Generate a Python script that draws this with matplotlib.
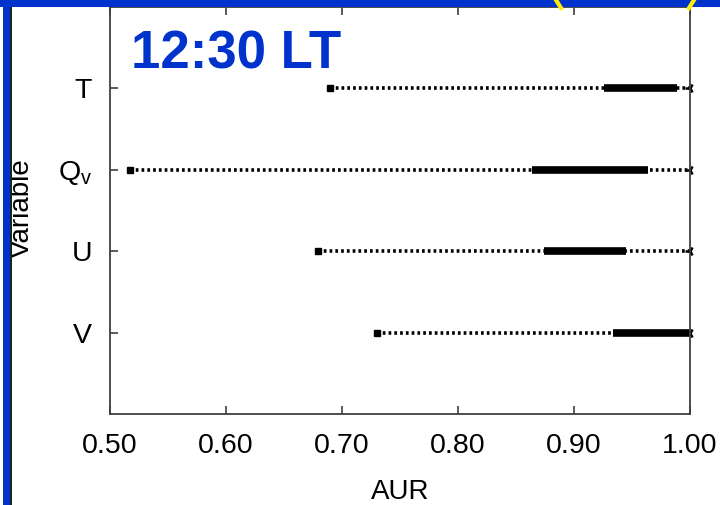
import matplotlib.pyplot as plt
from matplotlib.patches import Rectangle
from matplotlib.lines import Line2D

plt.rcParams['font.family'] = ['Liberation Sans', 'DejaVu Sans']
plt.rcParams['mathtext.default'] = 'regular'

# data
variables = ['T', 'Q$_v$', 'U', 'V']
aur_min = [0.690, 0.517, 0.679, 0.730]
aur_q1 = [0.926, 0.864, 0.874, 0.934]
aur_q3 = [0.989, 0.964, 0.945, 1.000]
aur_max = [1.000, 1.000, 1.000, 1.000]
xticks = [0.50, 0.60, 0.70, 0.80, 0.90, 1.00]

W, H = 720, 505
fig = plt.figure(figsize=(W / 100, H / 100), dpi=100)
ax = fig.add_axes([110 / W, 91 / H, 580 / W, 407 / H])

ypos = [4, 3, 2, 1]

# dotted whisker lines, min to max
ax.hlines(ypos, aur_min, aur_max, colors='black', lw=2.6,
          linestyles=[(0, (0.75, 0.85))], clip_on=False)
# thick interquartile segment
ax.hlines(ypos, aur_q1, aur_q3, colors='black', lw=5.5, clip_on=False)
# end markers
ax.plot(aur_min, ypos, ls='none', marker='s', ms=4.8, color='black')
ax.plot(aur_max, ypos, ls='none', marker='3', ms=7, mew=1.8,
        color='black', clip_on=False)

ax.set_xlim(0.5, 1.0)
ax.set_ylim(0, 5)
ax.set_xticks(xticks)
ax.set_xticklabels(['%.2f' % t for t in xticks])
ax.set_yticks(ypos)
ax.set_yticklabels(variables)

ax.tick_params(axis='x', direction='in', length=6, width=1.2, top=True,
               labelsize=20.5, pad=14, color='#404040')
ax.tick_params(axis='y', direction='in', length=6, width=1.2,
               labelsize=20.5, pad=13, color='#404040')
for s in ax.spines.values():
    s.set_color('#404040')
    s.set_linewidth(1.3)

ax.set_xlabel('AUR', fontsize=20, labelpad=14)
fig.text(22 / W, 1 - 208 / H, 'Variable', rotation=90, fontsize=20,
         ha='center', va='center')

ax.text(0.037, 0.85, '12:30 LT', transform=ax.transAxes, fontsize=38,
        fontweight='bold', color='#0033cc', ha='left', va='baseline')

# slide frame bits
blue = '#0033cc'
fig.patches.append(Rectangle((0, 1 - 7 / H), 1, 7 / H, transform=fig.transFigure,
                             facecolor=blue, edgecolor='none', zorder=5))
fig.patches.append(Rectangle((3 / W, 0), 7 / W, 1, transform=fig.transFigure,
                             facecolor=blue, edgecolor='none', zorder=5))
fig.patches.append(Rectangle((10 / W, 0), 1.5 / W, 1 - 7 / H, transform=fig.transFigure,
                             facecolor='#222222', edgecolor='none', zorder=5))
for x0, x1 in [(556, 561), (694, 689)]:
    fig.lines.append(Line2D([x0 / W, x1 / W], [1, 1 - 8 / H], transform=fig.transFigure,
                            color='#ffee00', lw=3, zorder=6))

fig.savefig('out.png', dpi=100)
